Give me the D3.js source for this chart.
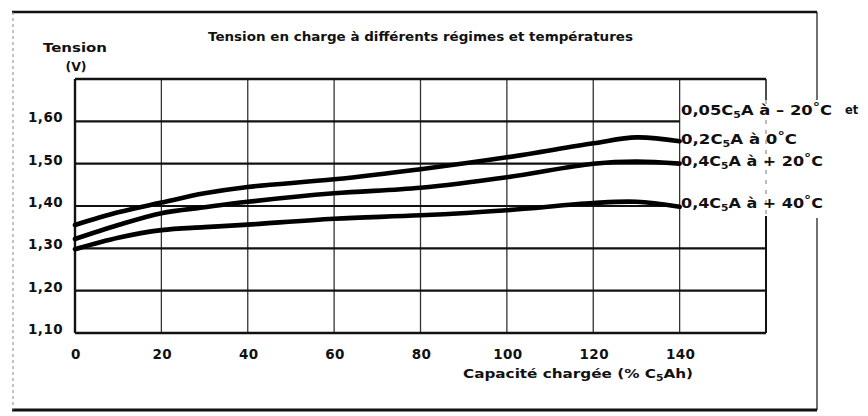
<!DOCTYPE html>
<html><head><meta charset="utf-8">
<script src="https://cdn.jsdelivr.net/npm/d3@7"></script>
<style>
  body { margin: 0; background: #fff; }
  svg { display: block; }
  text { font-family: "DejaVu Sans", "Liberation Sans", sans-serif; font-weight: bold; fill: #111; }
</style>
</head><body>
<svg id="chart" width="868" height="416"></svg>
<script>
// Charge capacity (% C5Ah) at which each voltage was read
const capacity = [0, 10, 20, 30, 40, 60, 80, 100, 120, 130, 140];
// Cell voltage (V) for each charging regime
const tensionFroid = [1.355, 1.385, 1.408, 1.43, 1.445, 1.463, 1.487, 1.515, 1.548, 1.562, 1.553]; // 0,05C5A à -20°C et 0,2C5A à 0°C
const tension20   = [1.322, 1.355, 1.383, 1.397, 1.41, 1.43, 1.443, 1.468, 1.50, 1.505, 1.50];    // 0,4C5A à +20°C
const tension40   = [1.298, 1.325, 1.343, 1.35, 1.356, 1.37, 1.378, 1.39, 1.407, 1.41, 1.398];    // 0,4C5A à +40°C

const xTickValues = [0, 20, 40, 60, 80, 100, 120, 140];
const yTickValues = [1.10, 1.20, 1.30, 1.40, 1.50, 1.60];
const yTickLabels = ["1,10", "1,20", "1,30", "1,40", "1,50", "1,60"];

const svg = d3.select("#chart");
const plot = { left: 75, right: 766, top: 79, bottom: 333 };

const x = d3.scaleLinear().domain([0, 160]).range([plot.left, plot.right]);
const y = d3.scaleLinear().domain([1.10, 1.70]).range([plot.bottom, plot.top]);

// Outer frame
const frame = svg.append("g").attr("stroke", "#111").attr("fill", "none");
frame.append("line").attr("x1", 12).attr("x2", 817).attr("y1", 12).attr("y2", 12).attr("stroke-width", 2.5);
frame.append("line").attr("x1", 12).attr("x2", 817).attr("y1", 410).attr("y2", 410).attr("stroke-width", 3);
frame.append("line").attr("x1", 13).attr("x2", 13).attr("y1", 12).attr("y2", 410)
  .attr("stroke", "#888").attr("stroke-width", 1).attr("stroke-dasharray", "3,3");
frame.append("line").attr("x1", 817).attr("x2", 817).attr("y1", 12).attr("y2", 100).attr("stroke-width", 1.2);
frame.append("line").attr("x1", 817).attr("x2", 817).attr("y1", 218).attr("y2", 410).attr("stroke-width", 1.2);

// Vertical grid
const grid = svg.append("g");
grid.selectAll("line.v").data(xTickValues.filter(d => d > 0)).join("line")
  .attr("class", "v")
  .attr("x1", d => x(d)).attr("x2", d => x(d))
  .attr("y1", plot.top).attr("y2", plot.bottom)
  .attr("stroke", "#333").attr("stroke-width", 1.3);

// Horizontal grid; the series labels sit over the right margin of the upper lines
grid.selectAll("line.h").data(yTickValues.filter(d => d > 1.10)).join("line")
  .attr("class", "h")
  .attr("x1", plot.left)
  .attr("x2", d => d >= 1.40 ? x(140) : x(160))
  .attr("y1", d => y(d)).attr("y2", d => y(d))
  .attr("stroke", "#111").attr("stroke-width", 2.2);

// Plot border
const border = svg.append("g").attr("stroke", "#111").attr("fill", "none");
border.append("line").attr("x1", plot.left).attr("x2", plot.right).attr("y1", plot.top).attr("y2", plot.top).attr("stroke-width", 2.6);
border.append("line").attr("x1", plot.left).attr("x2", plot.right).attr("y1", plot.bottom).attr("y2", plot.bottom).attr("stroke-width", 2.6);
border.append("line").attr("x1", plot.left).attr("x2", plot.left).attr("y1", plot.top).attr("y2", plot.bottom).attr("stroke-width", 2.4);
border.append("line").attr("x1", plot.right).attr("x2", plot.right).attr("y1", plot.top).attr("y2", 100).attr("stroke-width", 1.5);
border.append("line").attr("x1", plot.right).attr("x2", plot.right).attr("y1", 100).attr("y2", 216)
  .attr("stroke", "#777").attr("stroke-width", 1).attr("stroke-dasharray", "4,6");
border.append("line").attr("x1", plot.right).attr("x2", plot.right).attr("y1", 216).attr("y2", plot.bottom).attr("stroke-width", 2);

// Curves
const series = [tensionFroid, tension20, tension40];
const line = d3.line()
  .x((d, i) => x(capacity[i]))
  .y(d => y(d))
  .curve(d3.curveCatmullRom.alpha(0.5));
svg.append("g").selectAll("path").data(series).join("path")
  .attr("d", line)
  .attr("fill", "none")
  .attr("stroke", "#000")
  .attr("stroke-width", 4.6)
  .attr("stroke-linecap", "round")
  .attr("stroke-linejoin", "round");

// Y tick labels
svg.append("g").selectAll("text").data(yTickValues).join("text")
  .attr("x", 63).attr("y", d => y(d) - 4)
  .attr("dy", "0.36em")
  .attr("text-anchor", "end")
  .attr("font-size", 13.5)
  .attr("letter-spacing", 0.4)
  .text((d, i) => yTickLabels[i]);

// X tick labels
svg.append("g").selectAll("text").data(xTickValues).join("text")
  .attr("x", d => x(d) + 1).attr("y", 359)
  .attr("text-anchor", "middle")
  .attr("font-size", 13.5)
  .attr("letter-spacing", 0.4)
  .text(d => d);

// Titles
svg.append("text").attr("x", 208).attr("y", 41)
  .attr("font-size", 12)
  .attr("textLength", 425).attr("lengthAdjust", "spacingAndGlyphs")
  .text("Tension en charge à différents régimes et températures");

svg.append("text").attr("x", 43).attr("y", 52)
  .attr("font-size", 12.5)
  .attr("textLength", 64).attr("lengthAdjust", "spacingAndGlyphs")
  .text("Tension");
svg.append("text").attr("x", 76).attr("y", 71).attr("text-anchor", "middle")
  .attr("font-size", 12.5)
  .text("(V)");

const xTitle = svg.append("text").attr("x", 463).attr("y", 378)
  .attr("font-size", 12)
  .attr("textLength", 230).attr("lengthAdjust", "spacingAndGlyphs");
xTitle.append("tspan").text("Capacité chargée (% C");
xTitle.append("tspan").attr("font-size", 8.5).attr("dy", 3).text("5");
xTitle.append("tspan").attr("dy", -3).text("Ah)");

// Series labels at the right end of the curves
function regimeLabel(yPos, rate, sign, temp, width) {
  const t = svg.append("text").attr("x", 681).attr("y", yPos)
    .attr("dy", "0.36em")
    .attr("font-size", 13.5)
    .attr("textLength", width).attr("lengthAdjust", "spacingAndGlyphs");
  t.append("tspan").text(rate + "C");
  t.append("tspan").attr("font-size", 9).attr("dy", 3).text("5");
  t.append("tspan").attr("dy", -3).text("A à " + sign + temp);
  t.append("tspan").attr("font-size", 12).attr("dy", -4).text("°");
  t.append("tspan").attr("dy", 4).text("C");
  return t;
}
const last = capacity.length - 1;
regimeLabel(y(tensionFroid[last]) - 31, "0,05", "– ", "20", 151);
svg.append("text").attr("x", 845).attr("y", y(tensionFroid[last]) - 31).attr("dy", "0.36em")
  .attr("font-size", 11.5).text("et");
regimeLabel(y(tensionFroid[last]) - 2, "0,2", "", "0", 116);
regimeLabel(y(tension20[last]) - 3, "0,4", "+ ", "20", 142);
regimeLabel(y(tension40[last]) - 4, "0,4", "+ ", "40", 142);
</script>
</body></html>
